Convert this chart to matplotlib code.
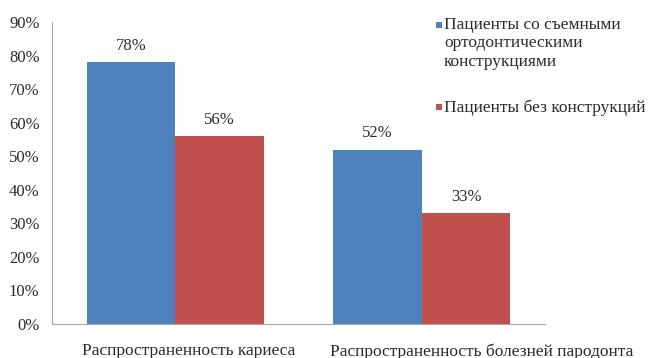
import matplotlib
matplotlib.use("Agg")
import matplotlib.pyplot as plt
import matplotlib.transforms as mtransforms
from matplotlib.patches import Rectangle
import numpy as np

categories = ["Распространенность кариеса", "Распространенность болезней пародонта"]
series_names = ["Пациенты со съемными\nортодонтическими\nконструкциями", "Пациенты без конструкций"]
with_appliances = [78, 52]
without_appliances = [56, 33]
yticks = [0, 10, 20, 30, 40, 50, 60, 70, 80, 90]

plt.rcParams['font.family'] = ['Liberation Serif', 'DejaVu Serif']
TXT = "#2b2b2b"

W, H = 648, 358
fig = plt.figure(figsize=(W/100, H/100), dpi=100)
ax = fig.add_axes([52/W, 1-324/H, (545-52)/W, (324-22)/H])

x = np.arange(len(categories))
w = 0.36
colors = ["#4F81BD", "#C0504D"]
b1 = ax.bar(x - w/2, with_appliances, w, color=colors[0])
b2 = ax.bar(x + w/2, without_appliances, w, color=colors[1])
for bars, vals in ((b1, with_appliances), (b2, without_appliances)):
    for r, v in zip(bars, vals):
        ax.annotate(f"{v}%", (r.get_x() + r.get_width()/2, v), xytext=(0, 6),
                    textcoords="offset points", ha="center", va="bottom",
                    fontsize=12, color=TXT)

ax.set_xlim(-0.5, 1.5)
ax.set_ylim(0, 90)
ax.set_yticks(yticks)
ax.set_yticklabels([f"{t}%" for t in yticks], fontsize=12, color=TXT)
ax.set_xticks([])
ax.tick_params(axis='y', length=0, pad=9)
for s in ("top", "right"):
    ax.spines[s].set_visible(False)
for s in ("left", "bottom"):
    ax.spines[s].set_color("#A6A6A6")

# category labels (shifted like in the original)
label_dx = [13, 60]
for xi, lab, dx in zip(x, categories, label_dx):
    tr = ax.get_xaxis_transform() + mtransforms.ScaledTranslation(dx/100, -19/100, fig.dpi_scale_trans)
    ax.text(xi, 0, lab, transform=tr, ha="center", va="top", fontsize=12.5, color=TXT)

# legend, marker aligned with first line
leg_y = [25, 107]
for name, c, yy in zip(series_names, colors, leg_y):
    fig.patches.append(Rectangle((436/W, 1-(yy+3)/H), 6/W, 6/H, transform=fig.transFigure,
                                 facecolor=c, edgecolor="none"))
    fig.text(444/W, 1-(yy-8)/H, name, ha="left", va="top", fontsize=12.5,
             color=TXT, linespacing=1.2, transform=fig.transFigure)

fig.savefig("out.png", dpi=100)
